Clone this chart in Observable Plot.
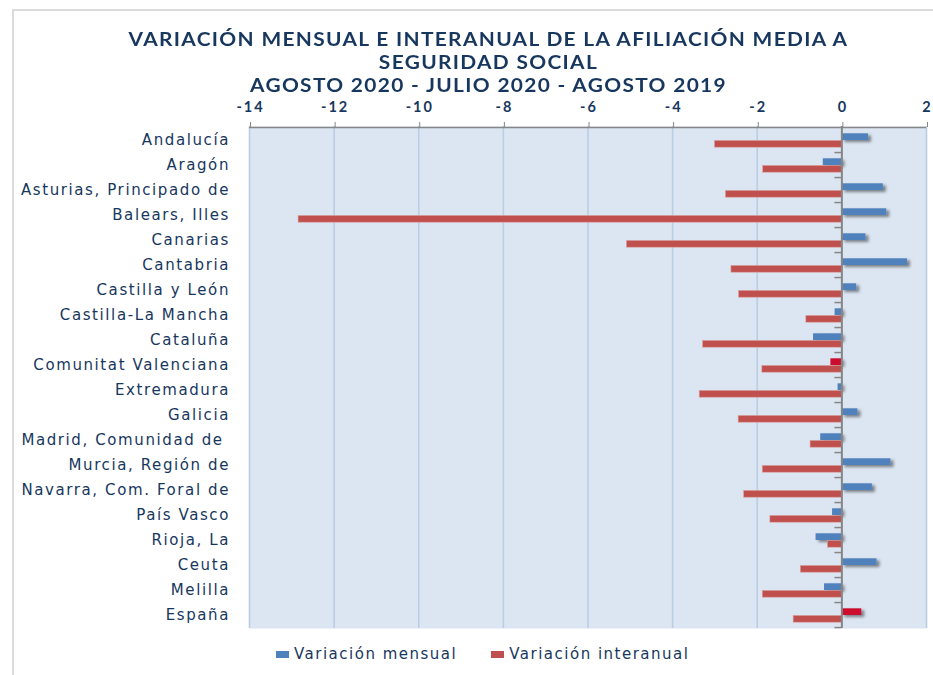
<!DOCTYPE html>
<html><head><meta charset="utf-8">
<script src="https://cdn.jsdelivr.net/npm/d3@7"></script>
<script src="https://cdn.jsdelivr.net/npm/@observablehq/plot@0.6"></script>
<style>
body{margin:0;background:#fff;}
#wrap{position:relative;width:933px;height:675px;overflow:hidden;background:#fff;}
#border{position:absolute;left:12px;top:9px;width:1000px;height:1000px;border-left:2px solid #dcdcdc;border-top:2px solid #dcdcdc;}
#title{position:absolute;left:0;width:977px;top:27px;text-align:center;font-family:Lato,"Open Sans",sans-serif;font-weight:bold;font-size:19px;letter-spacing:1.2px;color:#17375e;line-height:23px;transform:scaleX(1.1);transform-origin:488.5px 0;}
#chart{position:absolute;left:0;top:0;}
#chart svg text{white-space:pre;}
#legend{position:absolute;top:645px;left:276px;display:flex;align-items:center;font-family:"DejaVu Sans",sans-serif;font-size:15px;letter-spacing:1.5px;color:#17375e;}
#legend .item{display:flex;align-items:center;}
#legend .sw{width:13px;height:7px;margin-right:5px;}
</style>
</head><body>
<div id="wrap">
  <div id="border"></div>
  <div id="chart"></div>
  <div id="title"></div>
  <div id="legend"></div>
</div>
<script>
const titleLines = [
  "VARIACIÓN MENSUAL E INTERANUAL DE LA AFILIACIÓN MEDIA A",
  "SEGURIDAD SOCIAL",
  "AGOSTO 2020 - JULIO 2020 - AGOSTO 2019"
];
const categories = [
  "Andalucía","Aragón","Asturias, Principado de","Balears, Illes","Canarias",
  "Cantabria","Castilla y León","Castilla-La Mancha","Cataluña","Comunitat Valenciana",
  "Extremadura","Galicia","Madrid, Comunidad de ","Murcia, Región de","Navarra, Com. Foral de",
  "País Vasco","Rioja, La","Ceuta","Melilla","España"
];
const mensual = [0.63,-0.44,0.98,1.06,0.57,1.55,0.35,-0.16,-0.67,-0.26,-0.09,0.38,-0.50,1.16,0.72,-0.22,-0.61,0.83,-0.41,0.47];
const interanual = [-3.00,-1.86,-2.74,-12.84,-5.08,-2.61,-2.43,-0.84,-3.28,-1.88,-3.36,-2.44,-0.74,-1.87,-2.31,-1.69,-0.33,-0.97,-1.87,-1.14];
const highlighted = ["Comunitat Valenciana","España"];
const xTicks = [-14,-12,-10,-8,-6,-4,-2,0,2];
const seriesNames = ["Variación mensual","Variación interanual"];
const seriesColors = ["#4f81bd","#c0504d"];
const highlightColor = "#cc0f2f";

const rows = categories.map((c,i) => ({region:c, mensual:mensual[i], interanual:interanual[i]}));

const W = 933, H = 675, mT = 126, mB = 47, mL = 249, mR = 7;
const bw = (H - mT - mB) / categories.length;
const pxPerUnit = (W - mL - mR) / (xTicks[xTicks.length-1] - xTicks[0]);
const stub = 7 / pxPerUnit;

const plot = Plot.plot({
  width: W, height: H,
  marginTop: mT, marginBottom: mB, marginLeft: mL, marginRight: mR,
  style: {fontFamily: "DejaVu Sans", fontSize: "15px", color: "#17375e", background: "transparent", overflow: "visible"},
  x: {domain: [xTicks[0], xTicks[xTicks.length-1]], axis: null},
  y: {domain: categories, padding: 0, axis: null},
  marks: [
    Plot.frame({fill: "#dce6f2", stroke: null}),
    Plot.ruleX(xTicks, {stroke: "#b9cde5", strokeWidth: 1.6}),
    Plot.barX(rows, {y: "region", x: "mensual",
      fill: d => highlighted.includes(d.region) ? highlightColor : seriesColors[0],
      insetTop: 6.3, insetBottom: bw - 13.1}),
    Plot.barX(rows, {y: "region", x: "interanual", fill: seriesColors[1],
      stroke: "#d9a3a1", strokeWidth: 0.6,
      insetTop: 13.4, insetBottom: bw - 20.3}),
    Plot.ruleX([0], {stroke: "#868686", strokeWidth: 2}),
    Plot.ruleY(categories, {y: d => d, dy: bw/2, x1: -stub, x2: 0, stroke: "#868686", strokeWidth: 1.5}),
    Plot.ruleY([categories[0]], {y: d => d, dy: -bw/2, stroke: "#868686", strokeWidth: 1.5}),
    Plot.axisX(xTicks, {anchor: "top", tickSize: 5, tickPadding: 10, stroke: "#868686", fill: "#17375e",
      fontFamily: "Lato", fontWeight: "bold", fontSize: 14.5, dy: 0, dx: 1, tickFormat: d => String(d), label: null}),
    Plot.axisY({tickSize: 0, tickPadding: 19.5, fill: "#17375e", fontFamily: "DejaVu Sans", fontSize: 15, label: null})
  ]
});

const svg = d3.select(plot);
svg.insert("defs", ":first-child").html(
  '<filter id="barShadow" x="-20%" y="-20%" width="140%" height="140%">' +
  '<feDropShadow dx="3" dy="2" stdDeviation="1.6" flood-color="#000" flood-opacity="0.45"/></filter>');
const barGroups = plot.querySelectorAll('g[aria-label="bar"]');
if (barGroups[0]) barGroups[0].setAttribute("filter", "url(#barShadow)");
const xAxisText = plot.querySelector('g[aria-label="x-axis tick label"]');
if (xAxisText) xAxisText.setAttribute("letter-spacing", "2px");
const yAxisText = plot.querySelector('g[aria-label="y-axis tick label"]');
if (yAxisText) yAxisText.setAttribute("letter-spacing", "1.6px");

document.getElementById("chart").appendChild(plot);

d3.select("#title").selectAll("div").data(titleLines).join("div").text(d => d);

const leg = d3.select("#legend").selectAll("div.item").data(seriesNames).join("div")
  .attr("class", "item")
  .style("margin-right", (d,i) => i === 0 ? "34px" : "0px");
leg.append("div").attr("class", "sw").style("background", (d,i) => seriesColors[i]);
leg.append("span").text(d => d);
</script>
</body></html>
